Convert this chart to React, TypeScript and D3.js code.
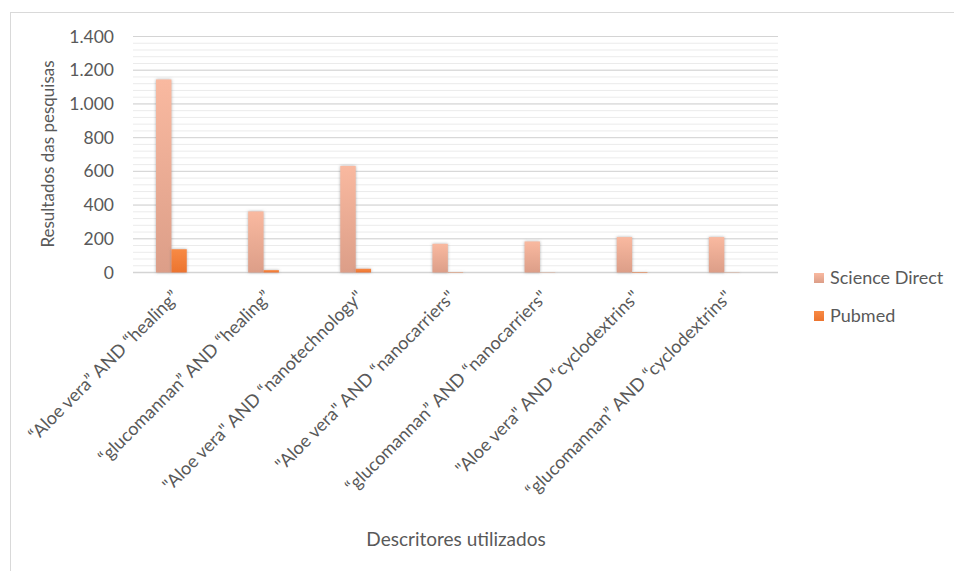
import * as d3 from 'd3';

const categories = [
  '“Aloe vera” AND “healing”',
  '“glucomannan” AND “healing”',
  '"Aloe vera" AND “nanotechnology"',
  '"Aloe vera" AND “nanocarriers"',
  '“glucomannan” AND “nanocarriers"',
  '"Aloe vera" AND “cyclodextrins"',
  '“glucomannan” AND “cyclodextrins"',
];
const scienceDirect = [1145, 362, 632, 170, 184, 210, 210];
const pubmed = [138, 14, 22, 2, 1, 3, 1];
const seriesNames = ['Science Direct', 'Pubmed'];
const yTicks = [0, 200, 400, 600, 800, 1000, 1200, 1400];

const W = 954;
const H = 571;
const font = 'Lato, "Open Sans", sans-serif';
const textColor = '#595959';

const App = () => {
  const x = d3.scaleBand<string>().domain(categories).range([133, 778]);
  // Excel keeps an empty third slot in each cluster
  const x1 = d3
    .scaleBand<string>()
    .domain([...seriesNames, 'empty'])
    .range([0, x.bandwidth()])
    .paddingOuter(1.5);
  const y = d3.scaleLinear().domain([0, 1400]).range([272.5, 36.5]);
  const minor = d3.range(0, 1401, 40);
  const fmt = (v: number) => d3.format(',')(v).replace(/,/g, '.');

  const series = [
    { name: seriesNames[0], values: scienceDirect, fill: 'url(#gSD)' },
    { name: seriesNames[1], values: pubmed, fill: 'url(#gPM)' },
  ];

  return (
    <svg width={W} height={H} style={{ position: 'absolute', left: 0, top: 0 }} fontFamily={font}>
      <defs>
        <linearGradient id="gSD" x1="0" y1="0" x2="0" y2="1">
          <stop offset="0" stopColor="#f9b9a0" />
          <stop offset="1" stopColor="#dc9e88" />
        </linearGradient>
        <linearGradient id="gPM" x1="0" y1="0" x2="0" y2="1">
          <stop offset="0" stopColor="#f88a44" />
          <stop offset="1" stopColor="#ec742f" />
        </linearGradient>
        <filter id="shadow" x="-50%" y="-10%" width="200%" height="120%">
          <feDropShadow dx="0" dy="0" stdDeviation="1.5" floodColor="#777" floodOpacity="0.6" />
        </filter>
      </defs>
      <rect x={10.5} y={12.5} width={W} height={H} fill="#fff" stroke="#d9d9d9" />

      {/* gridlines */}
      {minor.map((v) => (
        <line key={'m' + v} x1={133} x2={778} y1={y(v)} y2={y(v)} stroke="#ebebeb" strokeWidth={1} />
      ))}
      {yTicks.map((v) => (
        <line key={'g' + v} x1={133} x2={778} y1={y(v)} y2={y(v)} stroke="#d4d4d4" strokeWidth={v === 0 ? 1.5 : 1} />
      ))}

      {/* bars */}
      {series.map((s) => (
        <g key={s.name} filter="url(#shadow)">
          {categories.map((c, i) => (
            <rect
              key={c}
              x={(x(c) ?? 0) + (x1(s.name) ?? 0)}
              y={y(s.values[i])}
              width={x1.bandwidth()}
              height={y(0) - y(s.values[i])}
              fill={s.fill}
            />
          ))}
        </g>
      ))}

      {/* y axis labels */}
      {yTicks.map((v) => (
        <text key={'t' + v} x={114} y={y(v)} dy="0.35em" textAnchor="end" fontSize={17.5} fill={textColor}>
          {fmt(v)}
        </text>
      ))}
      <text
        transform={`translate(54, 154) rotate(-90)`}
        textAnchor="middle"
        fontSize={17}
        fill={textColor}
      >
        Resultados das pesquisas
      </text>

      {/* x axis labels */}
      {categories.map((c) => {
        const cx = (x(c) ?? 0) + x.bandwidth() / 2;
        return (
          <text
            key={'x' + c}
            transform={`translate(${cx + 1}, 298) rotate(-45)`}
            textAnchor="end"
            fontSize={18}
            fill={textColor}
          >
            {c}
          </text>
        );
      })}
      <text x={456} y={546} textAnchor="middle" fontSize={19} fill={textColor}>
        Descritores utilizados
      </text>

      {/* legend */}
      {series.map((s, i) => (
        <g key={'l' + s.name} transform={`translate(814, ${273 + i * 38})`}>
          <rect width={10} height={10} fill={s.fill} />
          <text x={16} y={5} dy="0.35em" fontSize={18} fill={textColor}>
            {s.name}
          </text>
        </g>
      ))}
    </svg>
  );
};

export default App;
